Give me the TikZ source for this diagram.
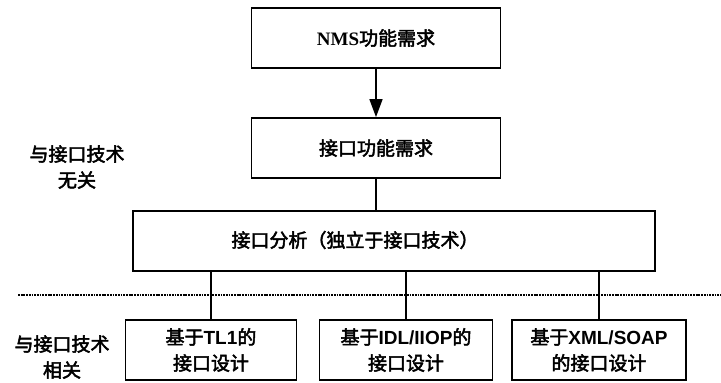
\documentclass[tikz,border=0pt]{standalone}
\usepackage{fontspec}
\usetikzlibrary{arrows.meta}
\newfontfamily\cjk{Noto Sans CJK SC}[FakeBold=2.5]
\newfontfamily\lserif{Liberation Serif}
\newfontfamily\lsans{Liberation Sans}
\newcommand{\ls}[1]{{\lsans\bfseries #1}}
\begin{document}
\begin{tikzpicture}[x=1pt,y=-1pt,
  boxnode/.style={draw, line width=1.8pt, inner sep=0pt, align=center},
  txt/.style={inner sep=0pt, align=center, font=\cjk\fontsize{19}{26}\selectfont},
  conn/.style={line width=1.6pt},
  arr/.style={line width=1.6pt, -{Triangle[length=18pt,width=13pt]}},
  sep/.style={line width=2.6pt, dash pattern=on 1.8pt off 0.9pt}]
\useasboundingbox (0,0) rectangle (721,383);
% top boxes
\node[boxnode, minimum width=249pt, minimum height=60pt, font=\cjk\fontsize{19}{26}\selectfont] (a1) at (376,38) {{\lserif\bfseries NMS}功能需求};
\node[boxnode, minimum width=249pt, minimum height=60pt, font=\cjk\fontsize{19}{26}\selectfont] (a2) at (376,148) {接口功能需求};
\node[boxnode, minimum width=522pt, minimum height=60pt] (a3) at (394,241) {};
\node[txt] (a3t) at (355,240) {接口分析（独立于接口技术）};
% bottom boxes
\node[boxnode, minimum width=171pt, minimum height=60pt, font=\cjk\fontsize{19}{26}\selectfont] (b1) at (211,350) {基于\ls{TL1}的\\接口设计};
\node[boxnode, minimum width=173pt, minimum height=60pt, font=\cjk\fontsize{19}{26}\selectfont] (b2) at (406,350) {基于\ls{IDL/IIOP}的\\接口设计};
\node[boxnode, minimum width=174pt, minimum height=60pt, font=\cjk\fontsize{19}{26}\selectfont] (b3) at (599,350) {基于\ls{XML/SOAP}\\的接口设计};
% side labels
\node[txt] (l1) at (77,167) {与接口技术\\无关};
\node[txt] (l2) at (62,357) {与接口技术\\相关};
% separator
\coordinate (s1) at (18,295);
\coordinate (s2) at (721,295);
\draw[sep] (s1) -- (s2);
% connectors
\draw[arr] (a1.south) -- (a2.north);
\draw[conn] (a2.south) -- (a3.north -| a2.south);
\draw[conn] (a3.south -| b1.north) -- (b1.north);
\draw[conn] (a3.south -| b2.north) -- (b2.north);
\draw[conn] (a3.south -| b3.north) -- (b3.north);
\end{tikzpicture}
\end{document}
